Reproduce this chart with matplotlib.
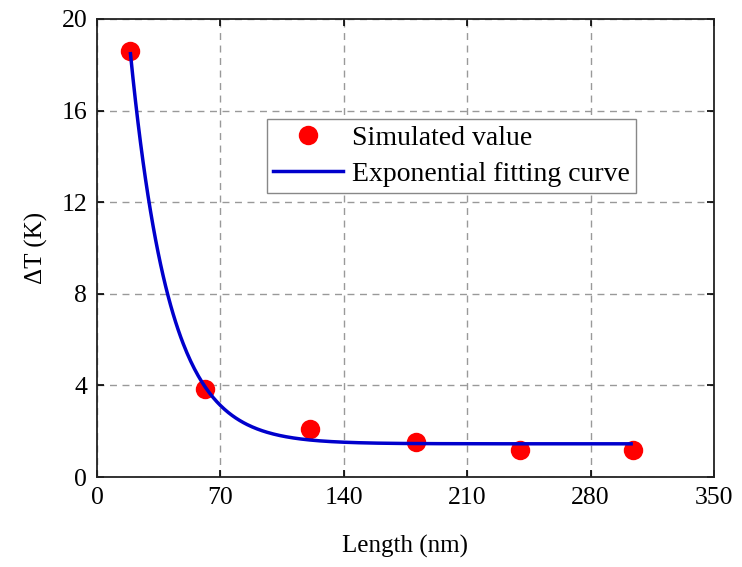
import numpy as np
import matplotlib
matplotlib.use("Agg")
import matplotlib.pyplot as plt

# simulated points
length_nm = [19, 61, 121, 181, 240, 304]
delta_t = [18.6, 3.83, 2.08, 1.55, 1.18, 1.18]

# exponential fit  y = y0 + A * exp(-x / t)
fit_y0, fit_a, fit_t = 1.45, 40.4, 22.0
fit_x_start, fit_x_end = 19, 303

x_ticks = [0, 70, 140, 210, 280, 350]
y_ticks = [0, 4, 8, 12, 16, 20]

plt.rcParams["font.family"] = ["Liberation Serif", "DejaVu Serif"]

fig = plt.figure(figsize=(7.42, 5.67), dpi=100)
ax = fig.add_axes([0.1307, 0.1587, 0.8315, 0.8078])

fx = np.linspace(fit_x_start, fit_x_end, 400)
fy = fit_y0 + fit_a * np.exp(-fx / fit_t)

ax.plot(length_nm, delta_t, "o", color="#ff0000", markersize=14,
        markeredgewidth=0, label="Simulated value", zorder=3)
ax.plot(fx, fy, color="#0000cc", linewidth=2.5,
        label="Exponential fitting curve", zorder=4)

ax.set_xlim(0, 350)
ax.set_ylim(0, 20)
ax.set_xticks(x_ticks)
ax.set_yticks(y_ticks)
ax.tick_params(direction="in", length=5, width=1.2, labelsize=18.5,
               top=True, right=True, pad=7)
ax.grid(True, color="#999999", linewidth=1.0, linestyle=(0, (5, 4)))
ax.set_axisbelow(True)
for sp in ax.spines.values():
    sp.set_linewidth(1.3)
    sp.set_color("#222222")

ax.set_xlabel("Length (nm)", fontsize=18, labelpad=19)
ax.set_ylabel("ΔT (K)", fontsize=18, labelpad=10)

leg = ax.legend(loc="upper left", bbox_to_anchor=(0.2755, 0.7817),
                fontsize=20, frameon=True, fancybox=False, framealpha=1,
                edgecolor="#888888", handlelength=2.5, handletextpad=0.35,
                borderpad=0.22, labelspacing=0.38, borderaxespad=0)
leg.get_frame().set_linewidth(1.0)

fig.savefig("out.png", dpi=100)
